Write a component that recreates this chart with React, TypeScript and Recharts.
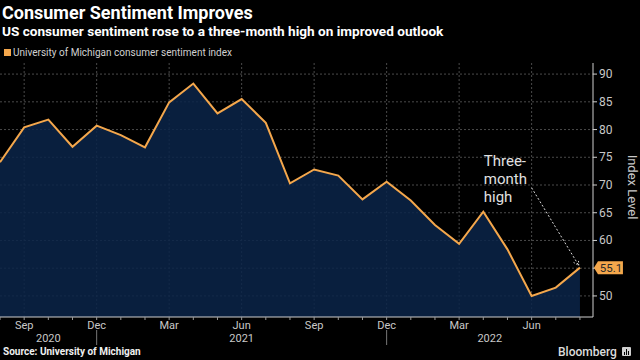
import React from 'react';
import { AreaChart, Area, XAxis, YAxis, CartesianGrid, ReferenceLine, ReferenceDot } from 'recharts';

const months = ['Aug', 'Sep', 'Oct', 'Nov', 'Dec', 'Jan', 'Feb', 'Mar', 'Apr', 'May', 'Jun', 'Jul', 'Aug', 'Sep', 'Oct', 'Nov', 'Dec', 'Jan', 'Feb', 'Mar', 'Apr', 'May', 'Jun', 'Jul', 'Aug'];
const sentiment = [74.1, 80.4, 81.8, 76.9, 80.7, 79.0, 76.8, 84.9, 88.3, 82.9, 85.5, 81.2, 70.3, 72.8, 71.7, 67.4, 70.6, 67.2, 62.8, 59.4, 65.2, 58.4, 50.0, 51.5, 55.1];
const quarterIdx = [1, 4, 7, 10, 13, 16, 19, 22];
const years = ['2020', '2021', '2022'];
const yearBreaks = [4, 16];
const yTicks = [50, 55, 60, 65, 70, 75, 80, 85, 90];
const annotationLines = ['Three-', 'month', 'high'];

const X_MAX = 24.54;
const Y_DOMAIN: [number, number] = [46.2, 92];
const ORANGE = '#f4a74c';
const GRID = '#4a4a4a';

const data = sentiment.map((v, i) => ({ i, month: months[i], value: v }));
const yearCenters = years.map((_, k) => {
  const s = k === 0 ? 0 : yearBreaks[k - 1];
  const e = k === years.length - 1 ? X_MAX : yearBreaks[k];
  return (s + e) / 2;
});
const lastIdx = sentiment.length - 1;
const lastValue = sentiment[lastIdx];

const font = 'Roboto, "DejaVu Sans", sans-serif';

const MonthTick = (props: any) => {
  const { x, y, payload } = props;
  if (!quarterIdx.includes(payload.value)) return null;
  return (
    <text x={x} y={y} dy={7} textAnchor="middle" fill="#c8c8c8" fontSize={11} fontFamily={font}>
      {months[payload.value]}
    </text>
  );
};

const YearTick = (props: any) => {
  const { x, y, payload } = props;
  if (yearBreaks.includes(payload.value)) {
    return <line x1={x} x2={x} y1={y - 9} y2={y + 6} stroke="#777" strokeWidth={1} />;
  }
  const k = yearCenters.indexOf(payload.value);
  return (
    <text x={x} y={y} dy={3} textAnchor="middle" fill="#c8c8c8" fontSize={11} fontFamily={font}>
      {years[k]}
    </text>
  );
};

const RightTick = (props: any) => {
  const { x, y, payload } = props;
  // the value tag covers the 55 label
  if (Math.abs(payload.value - lastValue) < 2.5) return null;
  return (
    <text x={x} y={y} dy={4} textAnchor="start" fill="#c8c8c8" fontSize={12} fontFamily={font}>
      {payload.value}
    </text>
  );
};

const ValueTag = (props: any) => {
  const { cx, cy } = props;
  const l = cx + 14;
  return (
    <g>
      <path d={`M${l},${cy} L${l + 4},${cy - 6.5} L${l + 29},${cy - 6.5} L${l + 29},${cy + 6.5} L${l + 4},${cy + 6.5} Z`} fill={ORANGE} />
      <text x={l + 17} y={cy + 4} textAnchor="middle" fill="#2a2a2a" fontSize={11.5} fontFamily={font}>
        {lastValue}
      </text>
    </g>
  );
};

const AnnotationText = (props: any) => {
  const { cx, cy } = props;
  return (
    <g>
      {annotationLines.map((t, k) => (
        <text key={t} x={cx} y={cy + k * 18} fill="#e0e0e0" fontSize={15} fontFamily={font}>
          {t}
        </text>
      ))}
    </g>
  );
};

const Arrow = (props: any) => {
  const { x1, y1, x2, y2 } = props;
  const a = Math.atan2(y2 - y1, x2 - x1);
  const h = 6;
  const p1 = [x2 - h * Math.cos(a - 0.5), y2 - h * Math.sin(a - 0.5)];
  const p2 = [x2 - h * Math.cos(a + 0.5), y2 - h * Math.sin(a + 0.5)];
  return (
    <g stroke="#d8d8d8" strokeWidth={1} fill="none">
      <line x1={x1} y1={y1} x2={x2} y2={y2} strokeDasharray="2 2" />
      <polyline points={`${p1[0]},${p1[1]} ${x2},${y2} ${p2[0]},${p2[1]}`} strokeDasharray="1.5 1.5" />
    </g>
  );
};

export default function App() {
  return (
    <div style={{ position: 'absolute', left: 0, top: 0, width: 640, height: 360, background: '#000', overflow: 'hidden', fontFamily: font }}>
      <div style={{ position: 'absolute', left: 2, top: 2, fontSize: 18, fontWeight: 700, color: '#fff', lineHeight: '21px', whiteSpace: 'nowrap' }}>
        Consumer Sentiment Improves
      </div>
      <div style={{ position: 'absolute', left: 2, top: 23, fontSize: 13.6, fontWeight: 700, color: '#fff', lineHeight: '16px', whiteSpace: 'nowrap' }}>
        US consumer sentiment rose to a three-month high on improved outlook
      </div>
      <div style={{ position: 'absolute', left: 4, top: 49, width: 7, height: 7, background: ORANGE }} />
      <div style={{ position: 'absolute', left: 13, top: 46, fontSize: 10, color: '#d0d0d0', lineHeight: '13px', whiteSpace: 'nowrap' }}>
        University of Michigan consumer sentiment index
      </div>

      <AreaChart width={640} height={360} data={data} margin={{ top: 63, right: 0, bottom: 0, left: 0 }}>
        <CartesianGrid stroke={GRID} strokeDasharray="2 2" horizontalValues={yTicks} verticalValues={quarterIdx} />
        <XAxis
          xAxisId={0}
          dataKey="i"
          type="number"
          domain={[0, X_MAX]}
          ticks={data.map(d => d.i)}
          interval={0}
          height={14}
          tick={<MonthTick />}
          tickSize={3}
          tickLine={{ stroke: '#999' }}
          axisLine={{ stroke: '#cfcfcf' }}
          allowDataOverflow
        />
        <XAxis
          xAxisId="year"
          dataKey="i"
          type="number"
          domain={[0, X_MAX]}
          ticks={[...yearBreaks, ...yearCenters]}
          interval={0}
          height={29}
          tick={<YearTick />}
          tickLine={false}
          axisLine={false}
          allowDataOverflow
        />
        <YAxis
          orientation="right"
          domain={Y_DOMAIN}
          ticks={yTicks}
          width={47}
          tick={<RightTick />}
          tickSize={4}
          tickLine={{ stroke: '#cfcfcf' }}
          axisLine={{ stroke: '#cfcfcf' }}
          allowDataOverflow
          label={(p: any) => {
            const vb = p.viewBox;
            const cx = vb.x + 39;
            const cy = vb.y + vb.height / 2 - 3;
            return (
              <text x={cx} y={cy} transform={`rotate(90 ${cx} ${cy})`} textAnchor="middle" dominantBaseline="central" fill="#c8c8c8" fontSize={13} fontFamily={font}>
                Index Level
              </text>
            );
          }}
        />
        <Area
          type="linear"
          dataKey="value"
          stroke={ORANGE}
          strokeWidth={2}
          fill="#0a2448"
          fillOpacity={0.86}
          dot={false}
          activeDot={false}
          isAnimationActive={false}
        />
        <ReferenceLine
          segment={[{ x: 22.0, y: 69.5 }, { x: 23.95, y: 55.5 }]}
          ifOverflow="visible"
          shape={<Arrow />}
        />
        <ReferenceDot x={20.02} y={73.4} r={1} ifOverflow="visible" shape={<AnnotationText />} />
        <ReferenceDot x={lastIdx} y={lastValue} r={1} ifOverflow="visible" shape={<ValueTag />} />
      </AreaChart>

      <div style={{ position: 'absolute', left: 3, top: 346, fontSize: 10, fontWeight: 700, color: '#f0f0f0', lineHeight: '12px', whiteSpace: 'nowrap' }}>
        Source: University of Michigan
      </div>
      <div style={{ position: 'absolute', left: 558, top: 345, fontSize: 12, fontWeight: 500, color: '#dcdcdc', lineHeight: '15px', whiteSpace: 'nowrap' }}>
        Bloomberg
      </div>
      <div style={{ position: 'absolute', left: 622, top: 347, width: 9, height: 9, background: '#cfcfcf', borderRadius: 1 }}>
        <div style={{ position: 'absolute', left: 2, top: 5, width: 1, height: 3, background: '#000' }} />
        <div style={{ position: 'absolute', left: 4, top: 2, width: 1, height: 6, background: '#000' }} />
        <div style={{ position: 'absolute', left: 6, top: 4, width: 1, height: 4, background: '#000' }} />
      </div>
    </div>
  );
}
